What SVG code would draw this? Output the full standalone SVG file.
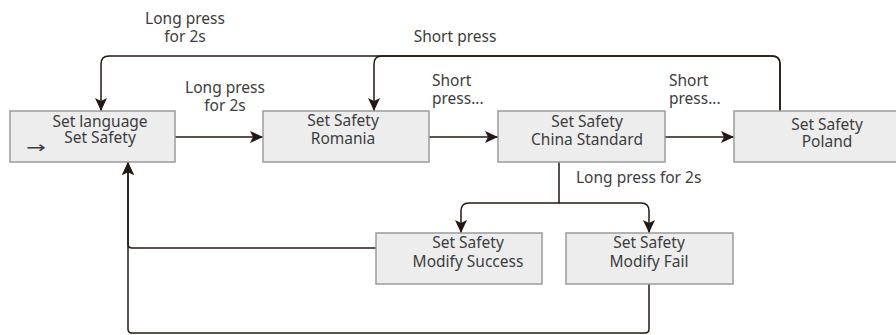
<svg xmlns="http://www.w3.org/2000/svg" width="896" height="335" viewBox="0 0 896 335">
<defs>
<marker id="ah" markerUnits="userSpaceOnUse" markerWidth="14" markerHeight="14" viewBox="0 0 14 14" refX="13" refY="7" orient="auto">
<path d="M0,1 L13,7 L0,13 L3,7 Z" fill="#231815"/>
</marker>
<style>
.box{fill:#ededee;stroke:#9b9b9b;stroke-width:1.5}
.t{font-family:"Noto Sans","Open Sans",sans-serif;font-size:15.5px;fill:#3d3d3d}
.c{text-anchor:middle}
.ln{fill:none;stroke:#231815;stroke-width:1.5}
.ar{marker-end:url(#ah)}
</style>
</defs>
<g id="connectors">
<path class="ln ar" d="M175,137 H263"/>
<path class="ln ar" d="M429,137 H498"/>
<path class="ln ar" d="M665,137 H734"/>
<path class="ln ar" d="M780,111 V64 Q780,56 772,56 H109 Q101,56 101,64 V111"/>
<path class="ln ar" d="M780,111 V64 Q780,56 772,56 H382 Q374,56 374,64 V111"/>
<path class="ln ar" d="M559,162 V203 H469 Q461,203 461,211 V233"/>
<path class="ln ar" d="M559,203 H641 Q649,203 649,211 V233"/>
<path class="ln ar" d="M376,248 H132 Q128,248 128,244 V162"/>
<path class="ln ar" d="M649,284 V329 Q649,333 645,333 H132 Q128,333 128,329 V162"/>
<text class="t c" x="185" y="24">Long press</text>
<text class="t c" x="185" y="42">for 2s</text>
<text class="t c" x="455" y="42">Short press</text>
<text class="t c" x="225" y="93">Long press</text>
<text class="t c" x="225" y="111">for 2s</text>
<text class="t" x="432" y="86">Short</text>
<text class="t" x="432" y="104">press...</text>
<text class="t" x="669" y="86">Short</text>
<text class="t" x="669" y="104">press...</text>
<text class="t" x="576" y="183">Long press for 2s</text>
</g>
<g id="n1">
<rect class="box" x="10" y="111" width="165" height="51"/>
<text class="t c" x="100" y="127">Set language</text>
<text class="t c" x="100" y="143">Set Safety</text>
<text x="26" y="153" textLength="20" lengthAdjust="spacingAndGlyphs" style="font-family:'DejaVu Sans',sans-serif;font-size:16px;fill:#3d3d3d">→</text>
</g>
<g id="n2">
<rect class="box" x="263" y="111" width="166" height="51"/>
<text class="t c" x="343" y="126">Set Safety</text>
<text class="t c" x="343" y="144">Romania</text>
</g>
<g id="n3">
<rect class="box" x="498" y="111" width="167" height="51"/>
<text class="t c" x="587" y="127">Set Safety</text>
<text class="t c" x="587" y="145">China Standard</text>
</g>
<g id="n4">
<rect class="box" x="734" y="111" width="166" height="51"/>
<text class="t c" x="827" y="130">Set Safety</text>
<text class="t c" x="827" y="147">Poland</text>
</g>
<g id="n5">
<rect class="box" x="376" y="233" width="166" height="51"/>
<text class="t c" x="468" y="248">Set Safety</text>
<text class="t c" x="468" y="267">Modify Success</text>
</g>
<g id="n6">
<rect class="box" x="566" y="233" width="167" height="51"/>
<text class="t c" x="649" y="248">Set Safety</text>
<text class="t c" x="649" y="267">Modify Fail</text>
</g>
</svg>
